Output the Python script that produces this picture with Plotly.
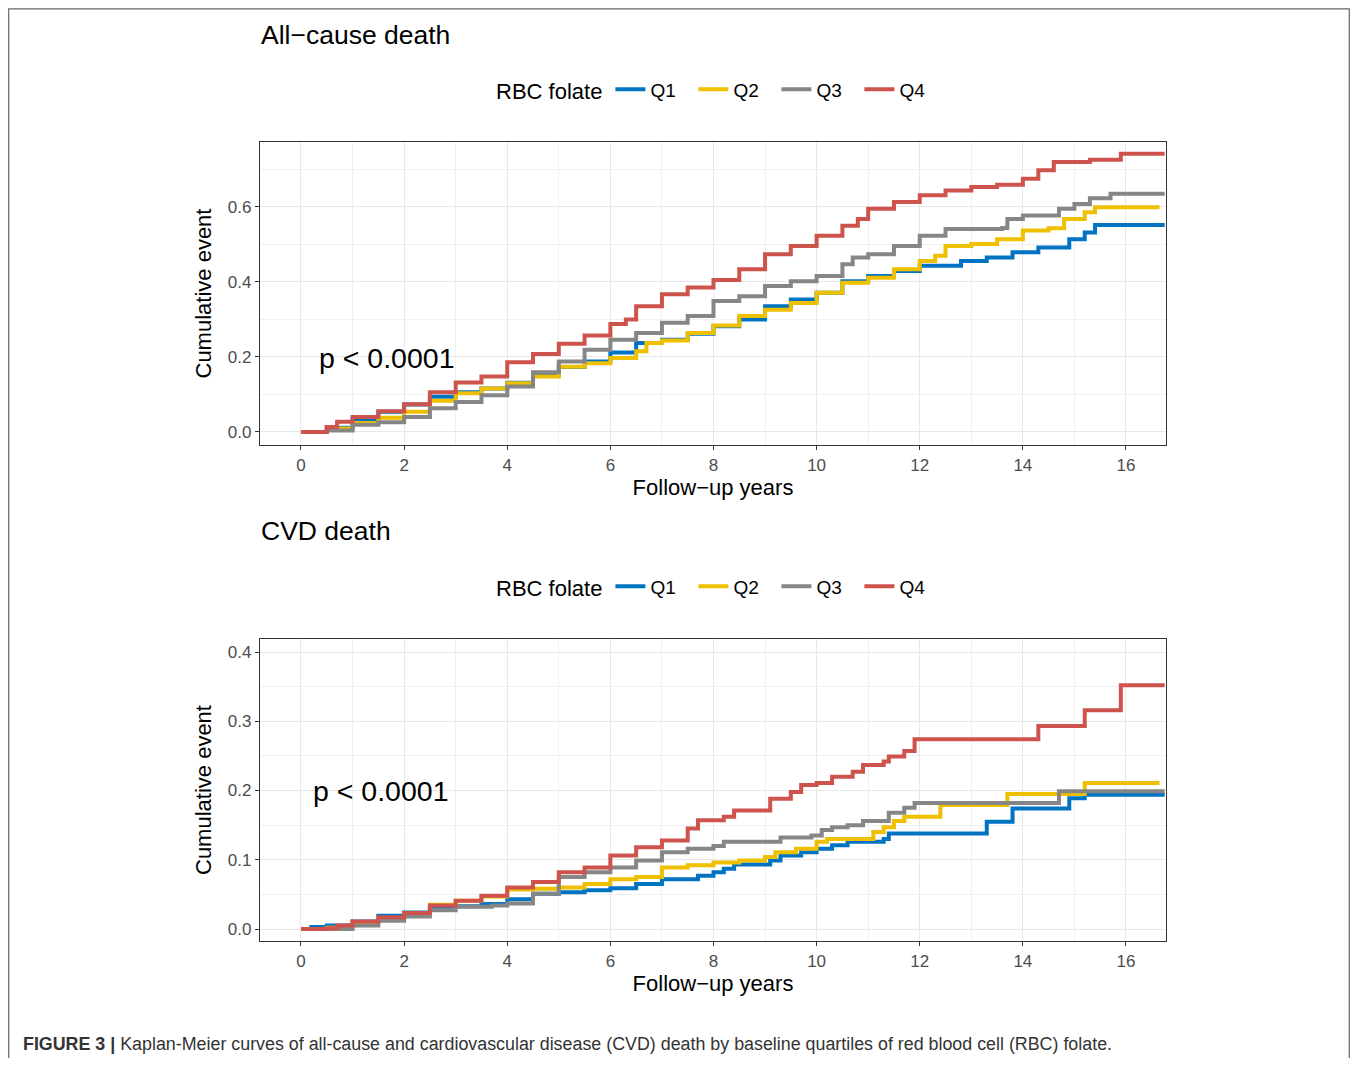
import plotly.graph_objects as go

# The page body adds an 8 px margin, so the figure is drawn 8 px in from the
# window edge; reference pixel positions are converted with that offset.
OFF = 8
W, H = 1358 - 2 * OFF, 1066 - 2 * OFF

# ---------------- data ----------------
groups = ["Q1", "Q2", "Q3", "Q4"]
colors = ["#0073C2", "#EFC000", "#868686", "#CD534C"]

# All-cause death
all_t_q1 = [0,0.5,1,1.5,2,2.5,3,3.5,4,4.5,5,5.5,6,6.5,7,7.5,8,8.5,9,9.5,10,10.5,11,11.5,12,12.8,13.3,13.8,14.3,14.9,15.2,15.4,16.75]
all_v_q1 = [0,0.011,0.033,0.054,0.073,0.094,0.106,0.116,0.131,0.152,0.173,0.188,0.212,0.237,0.246,0.262,0.282,0.30,0.335,0.353,0.371,0.402,0.416,0.429,0.443,0.456,0.465,0.479,0.492,0.514,0.532,0.552,0.552]
all_t_q2 = [0,0.5,1,1.5,2,2.5,3,3.5,4,4.5,5,5.5,6,6.5,6.7,7,7.5,8,8.5,9,9.5,10,10.5,11,11.5,12,12.3,12.5,13,13.5,14,14.5,14.8,15.2,15.4,16.65]
all_v_q2 = [0,0.009,0.024,0.038,0.054,0.083,0.103,0.116,0.13,0.148,0.174,0.183,0.197,0.215,0.237,0.244,0.264,0.284,0.309,0.326,0.344,0.371,0.398,0.411,0.434,0.456,0.47,0.496,0.501,0.514,0.537,0.543,0.568,0.586,0.599,0.599]
all_t_q3 = [0,0.5,1,1.5,2,2.5,3,3.5,4,4.5,5,5.5,6,6.5,7,7.5,8,8.5,9,9.5,10,10.5,10.7,11,11.5,12,12.5,13.6,13.7,14,14.7,15,15.3,15.7,16.75]
all_v_q3 = [0,0.004,0.019,0.026,0.04,0.063,0.08,0.098,0.121,0.159,0.188,0.219,0.246,0.264,0.291,0.309,0.349,0.362,0.389,0.402,0.416,0.447,0.465,0.474,0.496,0.523,0.541,0.544,0.568,0.577,0.595,0.608,0.623,0.635,0.635]
all_t_q4 = [0,0.5,0.7,1,1.5,2,2.5,3,3.5,4,4.5,5,5.5,6,6.3,6.5,7,7.5,8,8.5,9,9.5,10,10.5,10.8,11,11.5,12,12.5,13,13.5,14,14.3,14.6,15.3,15.9,16.75]
all_v_q4 = [0,0.013,0.027,0.04,0.055,0.074,0.106,0.132,0.148,0.186,0.208,0.235,0.257,0.288,0.30,0.335,0.367,0.385,0.405,0.434,0.474,0.496,0.523,0.55,0.568,0.595,0.613,0.631,0.644,0.653,0.659,0.675,0.698,0.72,0.726,0.742,0.742]

# CVD death
cvd_t_q1 = [0,0.2,0.5,1,1.5,2,2.5,3,3.5,4,4.5,5,5.5,6,6.5,7,7.7,8,8.2,8.4,9.1,9.3,9.7,10,10.3,10.6,11.3,11.4,13.3,13.8,14.9,15.2,16.75]
cvd_v_q1 = [0,0.003,0.005,0.011,0.019,0.024,0.032,0.033,0.036,0.043,0.051,0.053,0.056,0.059,0.065,0.072,0.077,0.082,0.087,0.093,0.099,0.106,0.111,0.116,0.121,0.126,0.13,0.138,0.155,0.174,0.189,0.194,0.194]
cvd_t_q2 = [0,0.5,1,1.5,2,2.5,3,3.5,4,4.5,5,5.5,6,6.5,7,7.5,8,8.5,9,9.2,9.6,10,10.2,11.1,11.3,11.5,11.7,12.4,13.7,15.2,16.65]
cvd_v_q2 = [0,0.002,0.01,0.016,0.023,0.035,0.041,0.047,0.057,0.058,0.06,0.065,0.072,0.075,0.089,0.092,0.096,0.099,0.104,0.111,0.116,0.126,0.13,0.14,0.147,0.156,0.162,0.179,0.195,0.211,0.211]
cvd_t_q3 = [0,0.5,1,1.5,2,2.5,3,3.7,4,4.5,5,5.5,6,6.5,7,7.5,8,8.2,9.3,9.9,10.1,10.3,10.6,10.9,11.4,11.7,11.9,14.7,16.75]
cvd_v_q3 = [0,0.0,0.005,0.012,0.018,0.027,0.032,0.034,0.037,0.051,0.075,0.082,0.089,0.099,0.111,0.116,0.12,0.126,0.132,0.135,0.143,0.147,0.15,0.156,0.168,0.175,0.182,0.199,0.199]
cvd_t_q4 = [0,0.5,0.7,1,1.5,2,2.5,3,3.5,4,4.5,5,5.5,6,6.5,7,7.5,7.7,8.2,8.4,9.1,9.5,9.7,10,10.3,10.7,10.9,11.3,11.4,11.7,11.9,14.3,15.2,15.9,16.75]
cvd_v_q4 = [0,0.001,0.005,0.011,0.017,0.023,0.034,0.041,0.048,0.06,0.068,0.082,0.089,0.106,0.118,0.128,0.145,0.157,0.162,0.171,0.188,0.198,0.208,0.211,0.22,0.227,0.237,0.242,0.249,0.257,0.274,0.293,0.316,0.352,0.352]

x_ticks = [0, 2, 4, 6, 8, 10, 12, 14, 16]
y_ticks_all = [0.0, 0.2, 0.4, 0.6]
y_ticks_cvd = [0.0, 0.1, 0.2, 0.3, 0.4]

panel_titles = ["All\u2212cause death", "CVD death"]
legend_title = "RBC folate"
x_title = "Follow\u2212up years"
y_title = "Cumulative event"
p_text = "p < 0.0001"
caption = ("<b>FIGURE 3 |</b> Kaplan-Meier curves of all-cause and cardiovascular disease (CVD) "
           "death by baseline quartiles of red blood cell (RBC) folate.")

# ---------------- figure ----------------
FONT = "Liberation Sans, Arial, Helvetica, sans-serif"

def px_x(p):
    return (p - OFF) / W

def px_y(p):
    return 1 - (p - OFF) / H

fig = go.Figure()

all_series = [(all_t_q1, all_v_q1), (all_t_q2, all_v_q2), (all_t_q3, all_v_q3), (all_t_q4, all_v_q4)]
cvd_series = [(cvd_t_q1, cvd_v_q1), (cvd_t_q2, cvd_v_q2), (cvd_t_q3, cvd_v_q3), (cvd_t_q4, cvd_v_q4)]

LW = 4
for (t, v), g, c in zip(all_series, groups, colors):
    fig.add_trace(go.Scatter(x=t, y=v, mode="lines", line=dict(color=c, width=LW, shape="hv"),
                             name=g, xaxis="x", yaxis="y", legend="legend"))
for (t, v), g, c in zip(cvd_series, groups, colors):
    fig.add_trace(go.Scatter(x=t, y=v, mode="lines", line=dict(color=c, width=LW, shape="hv"),
                             name=g, xaxis="x2", yaxis="y2", legend="legend2"))

x_range = [-0.795, 16.776]
dom_x = [px_x(260), px_x(1166)]
TICKFONT = dict(family=FONT, size=17, color="#4d4d4d")
TITLEFONT = dict(family=FONT, size=22, color="#000000")

def xaxis(anchor):
    return dict(domain=dom_x, range=x_range, anchor=anchor, tickvals=x_ticks,
                showline=True, linecolor="#333333", linewidth=1.2, mirror=True,
                ticks="outside", ticklen=4, tickcolor="#333333", tickwidth=1,
                tickfont=TICKFONT,
                showgrid=True, gridcolor="#E8E8E8", gridwidth=1.4,
                minor=dict(dtick=1, tick0=0, showgrid=True, gridcolor="#F0F0F0", gridwidth=0.8),
                zeroline=False,
                title=dict(text=x_title, font=TITLEFONT, standoff=6))

def yaxis(anchor, dom, rng, ticks, minor):
    return dict(domain=dom, range=rng, anchor=anchor, tickvals=ticks, tickformat=".1f",
                showline=True, linecolor="#333333", linewidth=1.2, mirror=True,
                ticks="outside", ticklen=4, tickcolor="#333333", tickwidth=1,
                tickfont=TICKFONT,
                showgrid=True, gridcolor="#E8E8E8", gridwidth=1.4,
                minor=dict(dtick=minor, tick0=0, showgrid=True, gridcolor="#F0F0F0", gridwidth=0.8),
                zeroline=False,
                title=dict(text=y_title, font=TITLEFONT, standoff=10))

leg_common = dict(orientation="h", xanchor="left", yanchor="middle", bgcolor="rgba(0,0,0,0)",
                  font=dict(family=FONT, size=19, color="#000000"),
                  title=dict(text=legend_title, side="left", font=dict(family=FONT, size=22, color="#000000")),
                  itemwidth=30, entrywidth=38, entrywidthmode="pixels", tracegroupgap=0)

fig.update_layout(
    width=W, height=H, margin=dict(l=0, r=0, t=0, b=0),
    paper_bgcolor="white", plot_bgcolor="white",
    font=dict(family=FONT, color="#000000"),
    xaxis=xaxis("y"),
    yaxis=yaxis("x", [px_y(445), px_y(142)], [-0.0347, 0.7733], y_ticks_all, 0.1),
    xaxis2=xaxis("y2"),
    yaxis2=yaxis("x2", [px_y(941), px_y(639)], [-0.0173, 0.4188], y_ticks_cvd, 0.05),
    legend=dict(x=px_x(494), y=px_y(90), **leg_common),
    legend2=dict(x=px_x(494), y=px_y(587), **leg_common),
)

annotations = [
    dict(text=panel_titles[0], x=px_x(259), y=px_y(35), xref="paper", yref="paper",
         xanchor="left", yanchor="middle", showarrow=False, font=dict(family=FONT, size=26.5, color="#000000")),
    dict(text=panel_titles[1], x=px_x(259), y=px_y(531), xref="paper", yref="paper",
         xanchor="left", yanchor="middle", showarrow=False, font=dict(family=FONT, size=26.5, color="#000000")),
    dict(text=p_text, x=0.32, y=0.198, xref="x", yref="y", xanchor="left", yanchor="middle",
         showarrow=False, font=dict(family=FONT, size=28.5, color="#000000")),
    dict(text=p_text, x=0.2, y=0.199, xref="x2", yref="y2", xanchor="left", yanchor="middle",
         showarrow=False, font=dict(family=FONT, size=28.5, color="#000000")),
    dict(text=caption, x=px_x(21), y=px_y(1044), xref="paper", yref="paper", xanchor="left",
         yanchor="middle", showarrow=False, font=dict(family=FONT, size=17.85, color="#333333")),
]
fig.update_layout(annotations=annotations)

# outer frame of the figure panel (edges sit at the edges of the drawing area)
fig.add_shape(type="rect", xref="paper", yref="paper", x0=0.7 / W, x1=1 - 0.7 / W, y0=-0.05,
              y1=1 - 0.8 / H, line=dict(color="#666666", width=1.2),
              fillcolor="rgba(0,0,0,0)", layer="below")

fig.write_html("out.html")
